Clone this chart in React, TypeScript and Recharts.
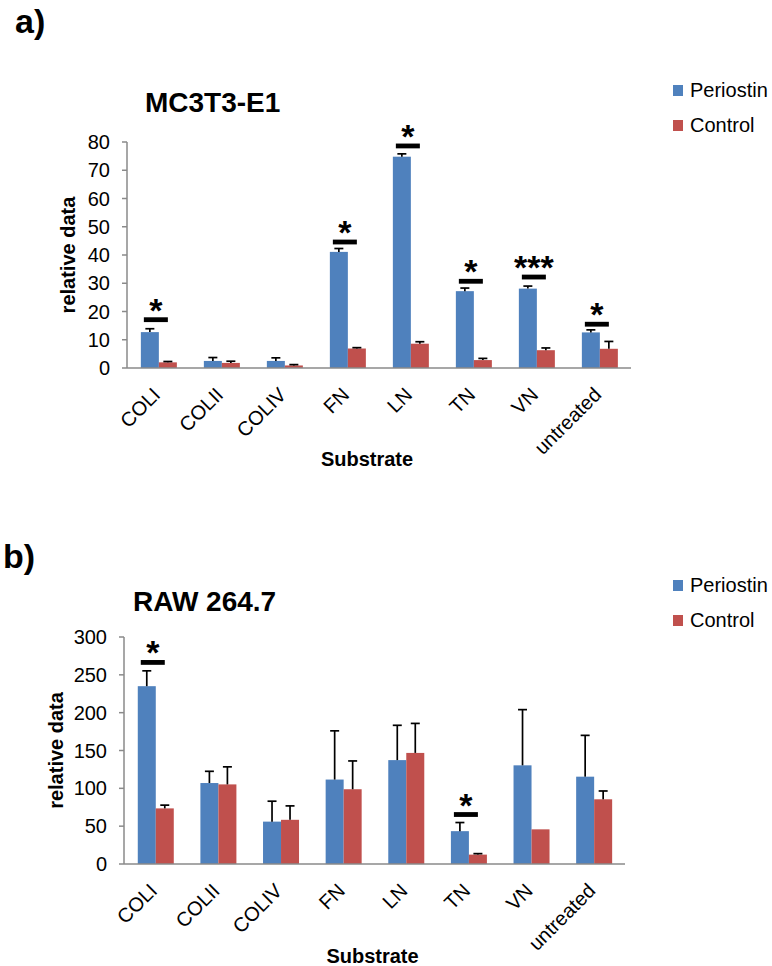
import React from 'react'
import { BarChart, Bar, XAxis, YAxis, Legend, Label } from 'recharts'

const FONT = '"Liberation Sans", Arial, sans-serif'
const BLUE = '#4F81BD'
const RED = '#C0504D'
const AXIS = '#8a8a8a'

const categories = ['COLI', 'COLII', 'COLIV', 'FN', 'LN', 'TN', 'VN', 'untreated']
const seriesOrder = ['Periostin', 'Control']

// a) MC3T3-E1
const periostinA    = [12.7, 2.5, 2.5, 41.1, 74.8, 27.2, 28.1, 12.6]
const periostinAErr = [1.2, 1.2, 1.1, 1.2, 1.0, 1.1, 0.9, 0.9]
const controlA      = [2.0, 1.8, 0.9, 6.9, 8.6, 2.8, 6.3, 6.8]
const controlAErr   = [0.3, 0.6, 0.3, 0.3, 0.7, 0.6, 0.8, 2.6]
const sigA          = [17.1, null, null, 44.6, 78.6, 30.7, 32.2, 15.5]
const starsA        = ['*', '', '', '*', '*', '*', '***', '*']
const ticksA        = [0, 10, 20, 30, 40, 50, 60, 70, 80]

// b) RAW 264.7
const periostinB    = [235, 107, 56, 111.6, 137.3, 43.4, 130.4, 115.4]
const periostinBErr = [20.3, 15.5, 27, 64.4, 46, 11.4, 73.6, 54.6]
const controlB      = [73.5, 105.2, 58.4, 98.8, 146.8, 12.4, 45.8, 85.5]
const controlBErr   = [4.3, 23.2, 18.4, 37.4, 39, 1.3, 0, 11]
const sigB          = [266.4, null, null, null, null, 65.4, null, null]
const starsB        = ['*', '', '', '', '', '*', '', '']
const ticksB        = [0, 50, 100, 150, 200, 250, 300]

function makeRows(per: number[], perErr: number[], ctrl: number[], ctrlErr: number[], sig: (number | null)[], stars: string[]) {
  return categories.map((name, i) => ({
    name,
    periostin: per[i],
    periostinErr: perErr[i],
    control: ctrl[i],
    controlErr: ctrlErr[i],
    sig: sig[i],
    stars: stars[i],
  }))
}

const rowsA = makeRows(periostinA, periostinAErr, controlA, controlAErr, sigA, starsA)
const rowsB = makeRows(periostinB, periostinBErr, controlB, controlBErr, sigB, starsB)

// bar + one-sided error bar (+ significance marker) drawn from the bar's own scale
function barShape(dataKey: string, errKey: string, withSig: boolean) {
  return (props: any) => {
    const { x, y, width, height, fill, payload } = props
    const value = payload[dataKey]
    const pxPerUnit = value ? height / value : 0
    const err = payload[errKey]
    const cx = x + width / 2
    const errTop = y - err * pxPerUnit
    const base = y + height
    const sigY = payload.sig != null ? base - payload.sig * pxPerUnit : null
    const sigX = x + width - 3
    return (
      <g>
        <rect x={x} y={y} width={width} height={height} fill={fill} />
        {err > 0 && (
          <g stroke="#000" strokeWidth={1.7}>
            <line x1={cx} x2={cx} y1={y} y2={errTop} />
            <line x1={cx - 4.5} x2={cx + 4.5} y1={errTop} y2={errTop} />
          </g>
        )}
        {withSig && sigY != null && (
          <g>
            <rect x={sigX - 12} y={sigY - 2.4} width={24} height={4.8} fill="#000" />
            <text x={sigX} y={sigY + 2} textAnchor="middle" fontFamily={FONT} fontWeight="bold" fontSize={34} fill="#000">
              {payload.stars}
            </text>
          </g>
        )}
      </g>
    )
  }
}

function SlantTick({ x, y, payload }: any) {
  const tx = x + 3
  const ty = y + 26
  return (
    <text x={tx} y={ty} textAnchor="end" transform={`rotate(-45, ${tx}, ${ty})`} fontFamily={FONT} fontSize={20} fill="#000">
      {payload.value}
    </text>
  )
}

function LegendBox({ payload }: any) {
  const items = [...(payload || [])].sort((a: any, b: any) => seriesOrder.indexOf(a.value) - seriesOrder.indexOf(b.value))
  return (
    <div style={{ fontFamily: FONT, fontSize: 20, color: '#000' }}>
      {items.map((p: any) => (
        <div key={p.value} style={{ display: 'flex', alignItems: 'center', height: 35 }}>
          <span style={{ width: 10, height: 11, background: p.color, marginRight: 7, display: 'inline-block' }} />
          <span>{p.value}</span>
        </div>
      ))}
    </div>
  )
}

interface PanelProps {
  rows: ReturnType<typeof makeRows>
  ticks: number[]
  top: number
  right: number
  yWidth: number
  xHeight: number
  legendTop: number
  yLabelDx: number
  xLabelDx: number
  xLabelOffset: number
}

function Panel({ rows, ticks, top, right, yWidth, xHeight, legendTop, yLabelDx, xLabelDx, xLabelOffset }: PanelProps) {
  return (
    <BarChart
      width={772}
      height={483}
      data={rows}
      margin={{ top, right, bottom: 0, left: 0 }}
      barCategoryGap="22%"
      barGap={0}
    >
      <XAxis
        dataKey="name"
        height={xHeight}
        interval={0}
        axisLine={{ stroke: AXIS, strokeWidth: 1.5 }}
        tickLine={false}
        tickSize={0}
        tick={<SlantTick />}
      >
        <Label
          value="Substrate"
          position="insideBottom"
          offset={xLabelOffset}
          dx={xLabelDx}
          style={{ fontFamily: FONT, fontWeight: 'bold', fontSize: 20, fill: '#000' }}
        />
      </XAxis>
      <YAxis
        width={yWidth}
        domain={[ticks[0], ticks[ticks.length - 1]]}
        ticks={ticks}
        interval={0}
        axisLine={{ stroke: AXIS, strokeWidth: 1.5 }}
        tickLine={{ stroke: AXIS, strokeWidth: 1.5 }}
        tickSize={5}
        tickMargin={12}
        tick={{ fontFamily: FONT, fontSize: 20, fill: '#000' }}
      >
        <Label
          value="relative data"
          angle={-90}
          position="center"
          dx={yLabelDx}
          style={{ fontFamily: FONT, fontWeight: 'bold', fontSize: 20, fill: '#000' }}
        />
      </YAxis>
      <Legend
        layout="vertical"
        align="center"
        verticalAlign="middle"
        content={<LegendBox />}
        wrapperStyle={{ top: legendTop, left: 673, width: 99 }}
      />
      <Bar dataKey="periostin" name="Periostin" fill={BLUE} isAnimationActive={false} shape={barShape('periostin', 'periostinErr', true)} />
      <Bar dataKey="control" name="Control" fill={RED} isAnimationActive={false} shape={barShape('control', 'controlErr', false)} />
    </BarChart>
  )
}

export default function App() {
  return (
    <div style={{ position: 'absolute', left: 0, top: 0, width: 772, height: 966, background: '#fff' }}>
      <Panel rows={rowsA} ticks={ticksA} top={142} right={141} yWidth={127} xHeight={115} legendTop={73} yLabelDx={4.5} xLabelDx={-12} xLabelOffset={17} />
      <Panel rows={rowsB} ticks={ticksB} top={154} right={147} yWidth={124} xHeight={102} legendTop={85} yLabelDx={-6} xLabelDx={-2} xLabelOffset={3} />
      <svg width={772} height={966} style={{ position: 'absolute', left: 0, top: 0, pointerEvents: 'none' }}>
        <g fontFamily={FONT} fontWeight="bold" fill="#000">
          <text x={15} y={33} fontSize={34}>a)</text>
          <text x={145} y={112} fontSize={28}>MC3T3-E1</text>
          <text x={3} y={568} fontSize={34}>b)</text>
          <text x={133} y={611} fontSize={28}>RAW 264.7</text>
        </g>
      </svg>
    </div>
  )
}
